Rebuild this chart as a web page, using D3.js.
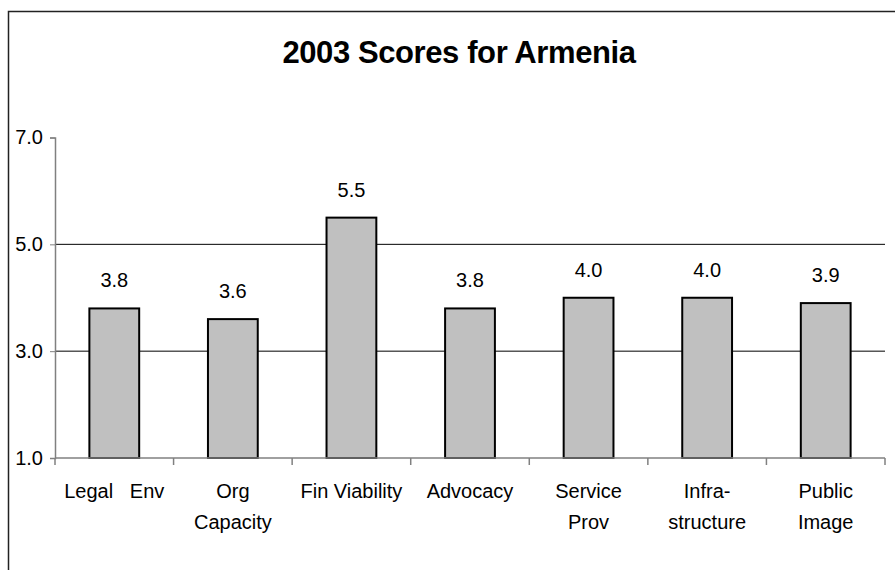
<!DOCTYPE html>
<html><head><meta charset="utf-8">
<script src="https://cdn.jsdelivr.net/npm/d3@7"></script>
<style>body{margin:0;background:#fff}svg{display:block}text{font-family:"Liberation Sans",Arial,sans-serif;fill:#000}</style>
</head><body><svg id="c" width="895" height="570"></svg>
<script>
const title = "2003 Scores for Armenia";
const categories = [["Legal   Env"],["Org","Capacity"],["Fin Viability"],["Advocacy"],["Service","Prov"],["Infra-","structure"],["Public","Image"]];
const values = [3.8, 3.6, 5.5, 3.8, 4.0, 4.0, 3.9];
const valueLabels = ["3.8","3.6","5.5","3.8","4.0","4.0","3.9"];
const yTicks = [1, 3, 5, 7];

const svg = d3.select("#c");
svg.append("rect").attr("x",8.5).attr("y",11.5).attr("width",900).attr("height",600)
  .attr("fill","#fff").attr("stroke","#222").attr("stroke-width",1.5);

const L=55, R=885, T=137.5, B=458;
const x = d3.scaleBand().domain(d3.range(values.length)).range([L,R]).paddingInner(0.58).paddingOuter(0.29);
const y = d3.scaleLinear().domain([1,7]).range([B,T]);

svg.append("text").attr("x",459).attr("y",63).attr("text-anchor","middle")
  .attr("font-size",31).attr("letter-spacing",-0.4).attr("font-weight","bold").text(title);

// gridlines
svg.append("g").selectAll("line").data(yTicks.filter(d=>d>1 && d<7)).join("line")
  .attr("x1",L).attr("x2",R).attr("y1",d=>y(d)).attr("y2",d=>y(d)).attr("stroke","#000").attr("stroke-width",1);

// bars
svg.append("g").selectAll("rect").data(values).join("rect")
  .attr("x",(d,i)=>x(i)).attr("width",x.bandwidth())
  .attr("y",d=>y(d)).attr("height",d=>B-y(d))
  .attr("fill","#c0c0c0").attr("stroke","#000").attr("stroke-width",2);

// value labels
svg.append("g").selectAll("text").data(values).join("text")
  .attr("x",(d,i)=>x(i)+x.bandwidth()/2).attr("y",d=>y(d)-21)
  .attr("text-anchor","middle").attr("font-size",20).text((d,i)=>valueLabels[i]);

// y axis
const ya = svg.append("g").attr("transform",`translate(${L},0)`)
  .call(d3.axisLeft(y).tickValues(yTicks).tickFormat(d3.format(".1f")).tickSize(5).tickPadding(7));
ya.select(".domain").attr("stroke","#808080").attr("stroke-width",1.5);
ya.selectAll(".tick line").attr("stroke","#808080");
ya.selectAll(".tick text").attr("font-size",20).attr("font-family",'"Liberation Sans",Arial,sans-serif').attr("fill","#000");

// x axis line and ticks
const xb = svg.append("g");
xb.append("line").attr("x1",L).attr("x2",R).attr("y1",B).attr("y2",B).attr("stroke","#808080").attr("stroke-width",1.5);
xb.selectAll("line.t").data(d3.range(values.length+1)).join("line").attr("class","t")
  .attr("x1",i=>L+i*(R-L)/values.length).attr("x2",i=>L+i*(R-L)/values.length)
  .attr("y1",B).attr("y2",B+7).attr("stroke","#808080").attr("stroke-width",1.5);

// category labels
const cl = svg.append("g").selectAll("text").data(categories).join("text")
  .attr("x",(d,i)=>x(i)+x.bandwidth()/2).attr("y",498)
  .attr("text-anchor","middle").attr("font-size",20).style("white-space","pre");
cl.each(function(d,i){
  const t=d3.select(this);
  d.forEach((s,k)=>t.append("tspan").attr("x",x(i)+x.bandwidth()/2).attr("dy",k===0?0:31).text(s));
});
</script></body></html>
